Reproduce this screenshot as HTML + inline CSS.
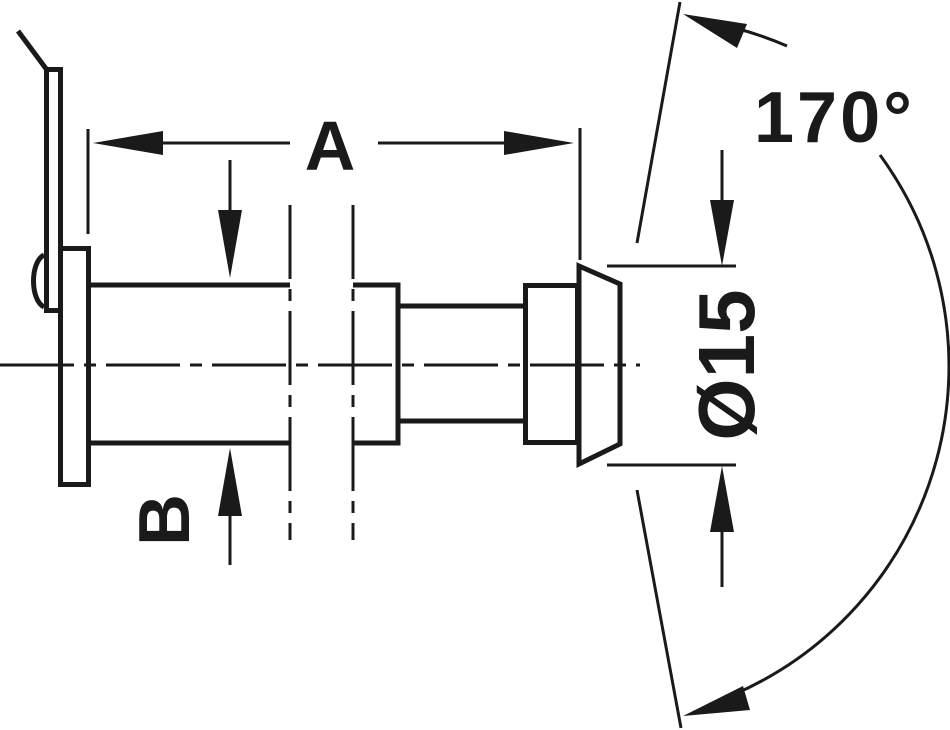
<!DOCTYPE html>
<html><head><meta charset="utf-8"><style>html,body{margin:0;padding:0;background:#fff}svg{display:block}</style></head>
<body>
<svg width="950" height="730" viewBox="0 0 950 730" xmlns="http://www.w3.org/2000/svg">
<g fill="none" stroke="#1a1a1a">
  <line x1="18" y1="31" x2="47" y2="70" stroke-width="5"/>
  <rect x="46.5" y="69.5" width="14" height="241" stroke-width="5"/>
  <path d="M44,255 C30,262 30,300 44,307" stroke-width="5"/>
  <rect x="60.5" y="248.5" width="28" height="236" stroke-width="5" fill="#fff"/>
  <line x1="88" y1="285" x2="290" y2="285" stroke-width="5"/>
  <line x1="88" y1="443" x2="290" y2="443" stroke-width="5"/>
  <polyline points="353,285 398,285 398,443 353,443" stroke-width="5"/>
  <line x1="398" y1="306" x2="525" y2="306" stroke-width="5"/>
  <line x1="398" y1="421" x2="525" y2="421" stroke-width="5"/>
  <rect x="525.5" y="285.5" width="52" height="157" stroke-width="5"/>
  <polygon points="579,266 620,284 620,444 579,464" stroke-width="5" fill="#fff"/>
  <line x1="290" y1="205" x2="290" y2="540" stroke-width="3" stroke-dasharray="74,10,12,10"/>
  <line x1="353" y1="205" x2="353" y2="540" stroke-width="3" stroke-dasharray="74,10,12,10"/>
  <line x1="0" y1="365" x2="640" y2="365" stroke-width="3" stroke-dasharray="74,10,12,10"/>
  <line x1="88" y1="129" x2="88" y2="234" stroke-width="3"/>
  <line x1="580" y1="128" x2="580" y2="260" stroke-width="3"/>
  <line x1="140" y1="143" x2="290" y2="143" stroke-width="3"/>
  <line x1="378" y1="143" x2="530" y2="143" stroke-width="3"/>
  <line x1="230" y1="160" x2="230" y2="215" stroke-width="3"/>
  <line x1="230" y1="510" x2="230" y2="565" stroke-width="3"/>
  <line x1="607" y1="266" x2="736" y2="266" stroke-width="3"/>
  <line x1="607" y1="465" x2="736" y2="465" stroke-width="3"/>
  <line x1="722" y1="150" x2="722" y2="205" stroke-width="3"/>
  <line x1="722" y1="530" x2="722" y2="587" stroke-width="3"/>
  <line x1="680" y1="2" x2="637" y2="243" stroke-width="3"/>
  <line x1="637" y1="490" x2="681" y2="728" stroke-width="3"/>
  <path d="M787,46 A358,358 0 0,0 735,28" stroke-width="3"/>
  <path d="M880,155 A358,358 0 0,1 735,694" stroke-width="3"/>
</g>
<g fill="#1a1a1a">
  <polygon points="93,143 163,131 163,155"/>
  <polygon points="574,143 504,131 504,155"/>
  <polygon points="230,278 218,210 242,210"/>
  <polygon points="230,448 218,516 242,516"/>
  <polygon points="722,266 710,200 734,200"/>
  <polygon points="722,466 710,532 734,532"/>
  <polygon points="683,14 747,24 737,48"/>
  <polygon points="683,716 743,686 750,710"/>
</g>
<g font-family="Liberation Sans, Arial, sans-serif" font-weight="bold" fill="#1a1a1a">
  <text x="330" y="170" font-size="70" text-anchor="middle">A</text>
  <text x="0" y="0" font-size="72" text-anchor="middle" transform="translate(189,520) rotate(-90)">B</text>
  <text x="0" y="0" font-size="80" text-anchor="middle" transform="translate(754,365) rotate(-90)">Ø15</text>
  <text x="754" y="142" font-size="72" letter-spacing="3">170°</text>
</g>
</svg>
</body></html>
